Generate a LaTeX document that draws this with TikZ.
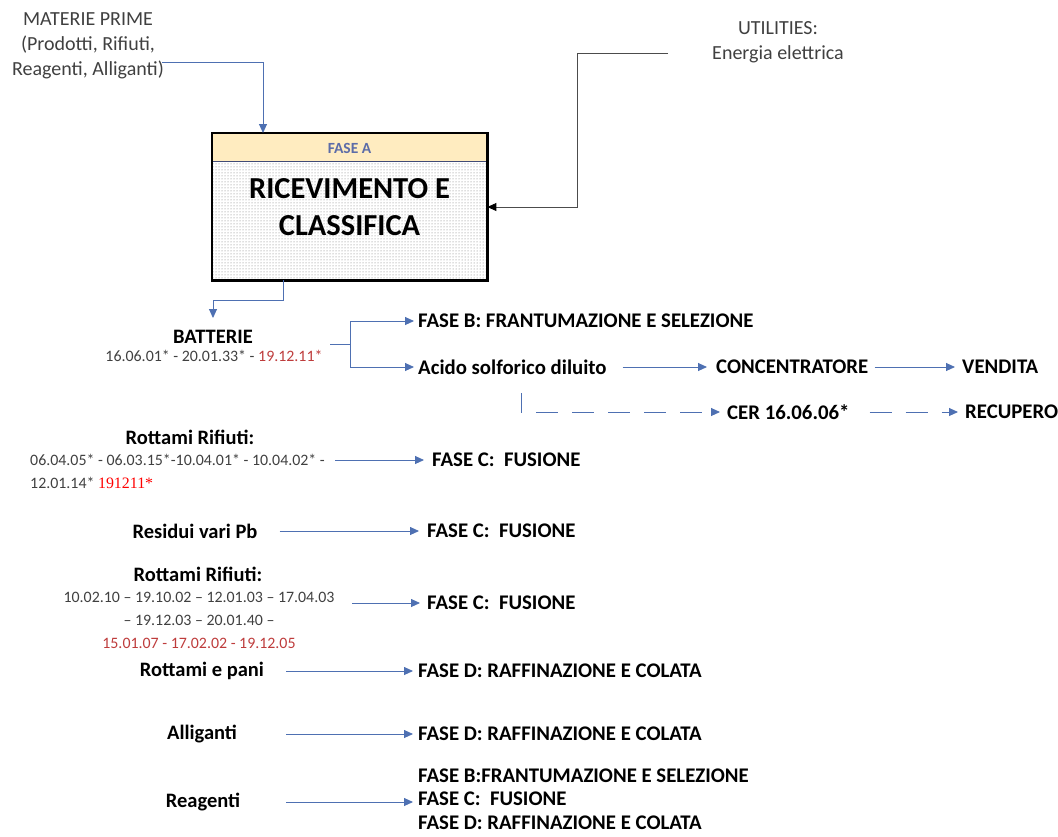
\documentclass[tikz,border=0pt]{standalone}
\usepackage{fontspec}
\setmainfont{Carlito}
\newfontfamily\timesfont{Liberation Serif}
\usetikzlibrary{arrows.meta,patterns,positioning}
\definecolor{flowblue}{RGB}{78,112,178}
\definecolor{textgray}{RGB}{64,64,64}
\definecolor{codered}{RGB}{190,60,60}
\definecolor{headyellow}{RGB}{255,236,192}
\definecolor{fasetext}{RGB}{92,108,168}
\tikzset{
  flow/.style={draw=flowblue, line width=0.9pt, -{Triangle[length=9pt,width=8pt]}},
  flowline/.style={draw=flowblue, line width=0.9pt},
  lbl/.style={font=\bfseries\fontsize{20.8}{24.5}\selectfont, anchor=west, inner sep=0pt, align=left},
  src/.style={font=\bfseries\fontsize{20.5}{24}\selectfont, inner sep=0pt},
  code/.style={font=\fontsize{15.9}{23}\selectfont, text=textgray, inner sep=0pt, align=center},
  note/.style={font=\fontsize{20}{25}\selectfont, text=textgray, inner sep=0pt, align=center}
}
\begin{document}
\begin{tikzpicture}[x=1pt,y=-1pt]
\useasboundingbox (0,0) rectangle (1058,836);
% fase A
\node[draw=none, pattern=dots, pattern color=black!55, minimum width=275pt, minimum height=147pt,
  anchor=north west, inner sep=0pt] (boxA) at (212,133) {};
\fill[headyellow] (212,133) rectangle (487,161);
\draw[fasetext!70!black, line width=0.6pt] (212,161) -- (487,161);
\draw[line width=2.5pt] (boxA.north west) rectangle (boxA.south east);
\node[font=\bfseries\fontsize{15.5}{18}\selectfont, text=fasetext] (faseA) at (349.5,148) {FASE A};
\node[font=\bfseries\fontsize{30.5}{37}\selectfont, align=center, inner sep=0pt] (ricev) at (349.5,207) {RICEVIMENTO E\\CLASSIFICA};
% ingressi
\node[note] (materie) at (88,46) {MATERIE PRIME\\(Prodotti, Rifiuti,\\Reagenti, Alliganti)};
\node[note] (util) at (778,42) {UTILITIES:\\Energia elettrica};
\coordinate (matout) at (162,62);
\coordinate (utout) at (668,53);
\draw[flow] (matout) -| (boxA.north -| 263,0);
\draw[draw=black!70, line width=0.9pt, -{Triangle[length=9pt,width=8pt,color=black]}]
  (utout) -- (577,53) |- (boxA.east |- 0,207);
% batterie
\node[src] (batt) at (213,337) {BATTERIE};
\node[code] (battcod) at (214,356) {16.06.01* - 20.01.33* - {\color{codered}19.12.11*}};
\coordinate (battin) at (213,318);
\draw[flow] (boxA.south -| 283,0) -- ++(0,20) -| (battin);
\coordinate (split) at (350,344);
\node[lbl] (faseB) at (418,321) {FASE B: FRANTUMAZIONE E SELEZIONE};
\node[lbl] (acido) at (418,367) {Acido solforico diluito};
\node[lbl] (conc) at (716,367) {CONCENTRATORE};
\node[lbl] (vend) at (962,367) {VENDITA};
\node[lbl] (cer) at (727,412) {CER 16.06.06*};
\node[lbl] (recup) at (965,412) {RECUPERO};
\draw[flowline] (330,344) -- (split);
\draw[flow] (split) |- ([xshift=-4pt]faseB.west);
\draw[flow] (split) |- ([xshift=-4pt]acido.west);
\draw[flow] ([xshift=16pt]acido.east) -- ([xshift=-9pt]conc.west);
\draw[flow] ([xshift=6pt]conc.east) -- ([xshift=-7pt]vend.west);
\coordinate (acidodown) at (521,393);
\draw[flowline] (acidodown) -- ++(0,20);
\draw[flow, dash pattern=on 22pt off 14pt] ([xshift=15pt,yshift=-19pt]acidodown) -- ([xshift=-7pt]cer.west);
\draw[flow, dash pattern=on 22pt off 14pt] ([xshift=20pt]cer.east) -- ([xshift=-7pt]recup.west);
% rottami rifiuti
\node[src] (rr1) at (190,437) {Rottami Rifiuti:};
\node[code, anchor=west] (rr1a) at (30,460) {06.04.05* - 06.03.15*-10.04.01* - 10.04.02* -};
\node[code, anchor=west] (rr1b) at (30,483) {12.01.14* {\timesfont\color{red}191211*}};
\node[lbl] (fus1) at (432,460) {FASE C:\ \ FUSIONE};
\draw[flow] ([xshift=10pt]rr1a.east) -- ([xshift=-8pt]fus1.west);
% residui
\node[src] (resid) at (195,531) {Residui vari Pb};
\node[lbl] (fus2) at (427,531) {FASE C:\ \ FUSIONE};
\draw[flow] ([xshift=22pt]resid.east) -- ([xshift=-8pt]fus2.west);
% rottami rifiuti 2
\node[src] (rr2) at (198,574) {Rottami Rifiuti:};
\node[code] (rr2cod) at (199,620) {10.02.10 -- 19.10.02 -- 12.01.03 -- 17.04.03\\-- 19.12.03 -- 20.01.40 --\\{\color{codered}15.01.07 - 17.02.02 - 19.12.05}};
\node[lbl] (fus3) at (427,603) {FASE C:\ \ FUSIONE};
\coordinate (rr2out) at (352,603);
\draw[flow] (rr2out) -- ([xshift=-7pt]fus3.west);
% rottami e pani, alliganti, reagenti
\node[src] (pani) at (202,671) {Rottami e pani};
\node[src] (allig) at (202,734) {Alliganti};
\node[src] (reag) at (203,802) {Reagenti};
\node[lbl] (rafD1) at (418,671) {FASE D: RAFFINAZIONE E COLATA};
\node[lbl] (rafD2) at (418,734) {FASE D: RAFFINAZIONE E COLATA};
\node[lbl, font=\bfseries\fontsize{20.8}{23.5}\selectfont] (fasiR) at (418,799) {FASE B:FRANTUMAZIONE E SELEZIONE\\FASE C:\ \ FUSIONE\\FASE D: RAFFINAZIONE E COLATA};
\coordinate (panout) at (286,671);
\coordinate (allout) at (286,734);
\coordinate (reaout) at (286,802);
\draw[flow] (panout) -- ([xshift=-5pt]rafD1.west);
\draw[flow] (allout) -- ([xshift=-5pt]rafD2.west);
\draw[flow] (reaout) -- ([xshift=-5pt]fasiR.west |- reaout);
\end{tikzpicture}
\end{document}
